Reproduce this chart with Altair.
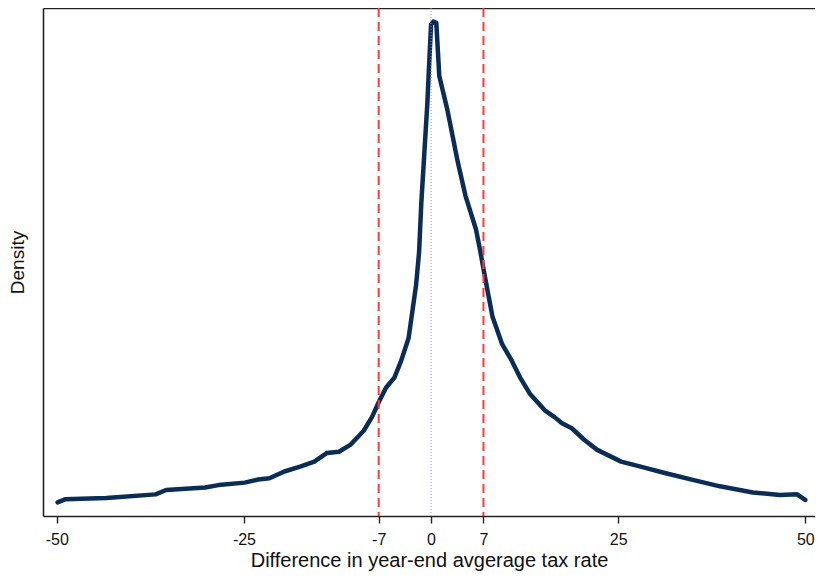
import altair as alt
import pandas as pd

# Kernel density of the difference
diff = [-49.9, -48.9, -43.4, -36.8, -35.4, -30.2, -28.4, -24.9, -23.1, -21.6,
        -19.6, -17.5, -15.6, -13.9, -12.3, -10.8, -9.0, -7.9, -7.0, -6.0,
        -4.9, -4.0, -3.0, -2.5, -2.0, -1.6, -1.3, -0.5, -0.3, 0.0,
        0.3, 0.7, 1.1, 2.2, 3.6, 4.6, 6.0, 6.6, 7.2, 7.7,
        8.2, 9.5, 10.8, 11.9, 13.2, 15.2, 16.5, 17.5, 18.8, 20.5,
        22.2, 25.4, 28.0, 31.1, 35.1, 38.6, 43.0, 46.6, 48.9, 50.0]
density = [0.0022, 0.0027, 0.0029, 0.0035, 0.0042, 0.0046, 0.0050, 0.0054, 0.0059, 0.0061,
           0.0072, 0.0080, 0.0088, 0.0102, 0.0104, 0.0115, 0.0138, 0.0160, 0.0184, 0.0208,
           0.0224, 0.0251, 0.0288, 0.0331, 0.0374, 0.0427, 0.0507, 0.0667, 0.0720, 0.0795,
           0.0800, 0.0798, 0.0712, 0.0656, 0.0571, 0.0518, 0.0464, 0.0427, 0.0387, 0.0355,
           0.0323, 0.0278, 0.0251, 0.0224, 0.0198, 0.0171, 0.0160, 0.0150, 0.0142, 0.0123,
           0.0107, 0.0088, 0.0080, 0.0070, 0.0058, 0.0048, 0.0038, 0.0034, 0.0035, 0.0026]

# reference lines
line_pos = [-7, 0, 7]
line_kind = ["band", "zero", "band"]

tick_vals = [-50, -25, -7, 0, 7, 25, 50]

df = pd.DataFrame({"diff": diff, "density": density})
lines = pd.DataFrame({"pos": line_pos, "kind": line_kind})

x_scale = alt.Scale(domain=[-51.85, 51.3], nice=False, zero=False)

curve = alt.Chart(df).mark_line(
    color="#0b2d55", strokeWidth=4.5, strokeJoin="round", strokeCap="round"
).encode(
    x=alt.X("diff:Q", scale=x_scale,
            axis=alt.Axis(values=tick_vals, labelExpr="datum.value + ''", grid=False,
                          title="Difference in year-end avgerage tax rate",
                          tickSize=7, labelPadding=8, titlePadding=3)),
    y=alt.Y("density:Q", scale=alt.Scale(domain=[0, 0.0822], nice=False),
            axis=alt.Axis(title="Density", labels=False, ticks=False, grid=False,
                          titlePadding=16))
)

refs = alt.Chart(lines).mark_rule().encode(
    x=alt.X("pos:Q", scale=x_scale,
            axis=alt.Axis(orient="top", labels=False, ticks=False, grid=False, title=None)),
    color=alt.Color("kind:N", scale=alt.Scale(domain=["band", "zero"],
                                              range=["#ff3b3b", "#8c8cff"]), legend=None),
    strokeDash=alt.StrokeDash("kind:N", scale=alt.Scale(domain=["band", "zero"],
                                                        range=[[9, 5], [1, 2]]), legend=None),
    strokeWidth=alt.StrokeWidth("kind:N", scale=alt.Scale(domain=["band", "zero"],
                                                          range=[2, 1]), legend=None)
)

chart = alt.layer(curve, refs).resolve_axis(x="independent").properties(
    width=772, height=508,
    autosize=alt.AutoSizeParams(type="none"),
    padding={"left": 35, "top": 0, "right": 0, "bottom": 57}
).configure_view(stroke=None).configure_axis(
    domainColor="#222222", domainWidth=1.6, tickColor="#222222", tickWidth=1.4,
    labelFont="Liberation Sans", titleFont="Liberation Sans",
    labelFontSize=16, labelColor="#111111", titleColor="#111111",
    titleFontWeight="normal"
).configure_axisX(titleFontSize=20).configure_axisY(titleFontSize=19)

chart.save("out.html", embed_options={"renderer": "svg", "actions": False})
